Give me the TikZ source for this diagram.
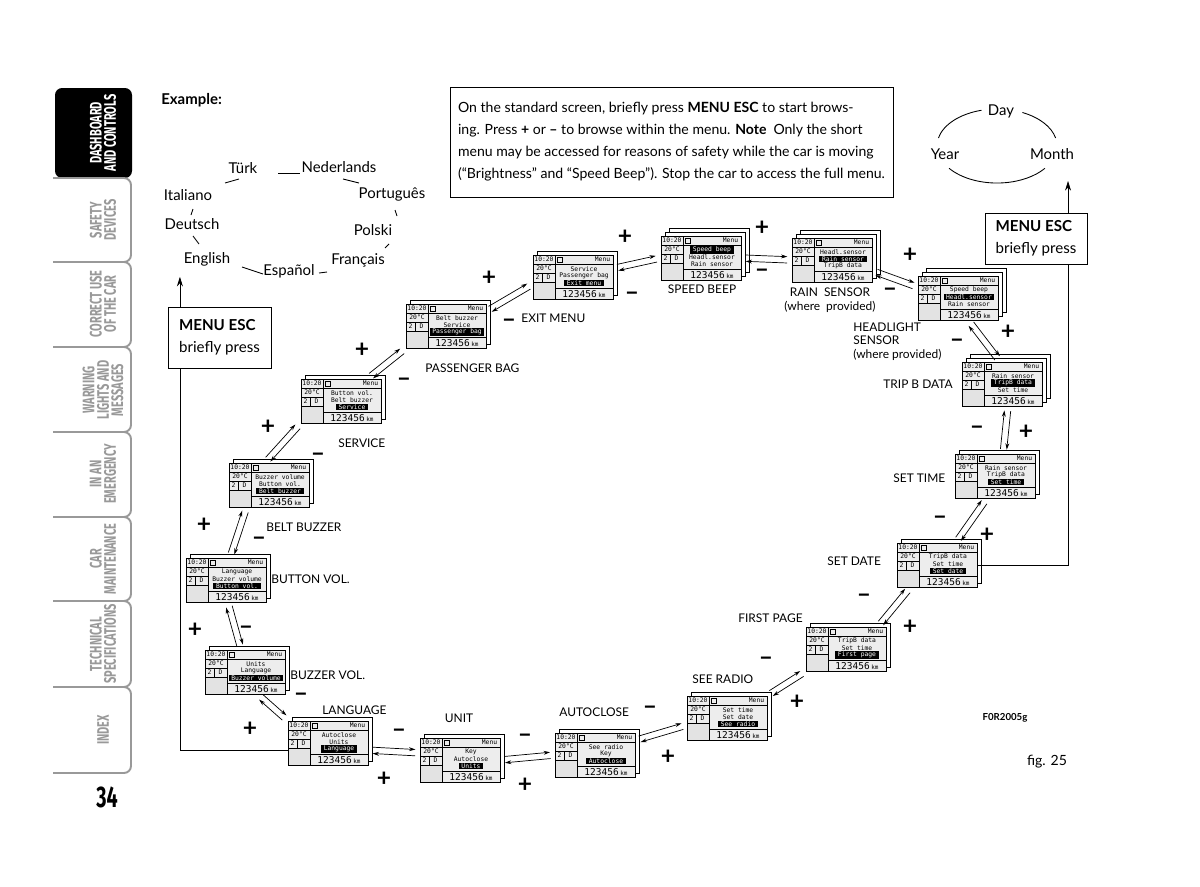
\documentclass[tikz,border=0pt]{standalone}
\usepackage{fontspec}
\setmainfont{Lato}
\newfontfamily\tabfont[FakeStretch=0.66]{Fira Sans}
\newfontfamily\lcdfont{DejaVu Sans Mono}
\usetikzlibrary{calc,arrows.meta}

\definecolor{tabgray}{gray}{0.6}
\definecolor{lcdgray}{gray}{0.93}

\tikzset{
    panel/.style={draw, fill=white, line width=0.35pt},
    lcdface/.style={fill=lcdgray, minimum width=1.6cm, minimum height=0.88cm, inner sep=0},
    lcdrule/.style={line width=0.3pt},
    lcdtxt/.style={font=\lcdfont\fontsize{3.6}{4}\selectfont, inner sep=0.3pt},
    hlrow/.style={fill=black, text=white, inner xsep=1.5pt},
    lcdkm/.style={font=\lcdfont\fontsize{5.4}{6}\selectfont, inner sep=0},
    flow/.style={line width=0.4pt, -{Stealth[length=3.6pt,width=2.2pt]}, shorten <=2.5pt, shorten >=2.5pt},
    up/.style={line width=0.45pt, -{Stealth[length=5.5pt,width=3.4pt]}},
    sign/.style={font=\fontsize{14}{14}\selectfont\bfseries, inner sep=0},
    lbl/.style={font=\fontsize{6.8}{7.9}\selectfont, inner sep=0, anchor=west},
    lang/.style={font=\fontsize{8.5}{10}\selectfont, inner sep=0},
    ringline/.style={line width=0.5pt},
    escbox/.style={draw, line width=0.5pt, align=left, font=\fontsize{8.6}{12.3}\selectfont, minimum width=2.06cm},
    note/.style={draw, line width=0.5pt, align=left, font=\fontsize{8}{12.5}\selectfont, minimum width=8.86cm, minimum height=2.2cm, inner xsep=2pt},
    tabline/.style={draw=tabgray, line width=1.1pt},
    tabtxt/.style={rotate=90, align=center, text=tabgray, font=\tabfont\bfseries\fontsize{9.5}{8.2}\selectfont, inner sep=0},
}

% one display: name, top left corner, three menu lines, highlighted line, panels in the stack
\newcommand\lcd[7]{%
    \begin{scope}[shift={#2}]
    \tikzset{row1/.style={}, row2/.style={}, row3/.style={}, row#6/.style={hlrow}}
    \ifnum#7>2 \draw[panel] (8,-8) rectangle (88,36); \fi
    \draw[panel] (4,-4) rectangle (84,40);
    \node[lcdface] (#1) at (40,22) {};
    \fill[gray!22] (0,27) rectangle (22,44);
    \draw[lcdrule] (0,0) rectangle (80,44);
    \draw[lcdrule] (0,9) -- (80,9) (22,0) -- (22,44) (0,18) -- (22,18) (0,27) -- (22,27)
        (9,18) -- (9,27) (22,33) -- (80,33) (24.5,2) rectangle (29.5,7);
    \node[lcdtxt] (#1-clk) at (11,4.6) {10:20};
    \node[lcdtxt, anchor=east] (#1-menu) at (78,4.6) {Menu};
    \node[lcdtxt] (#1-temp) at (11,13.6) {20°C};
    \node[lcdtxt] (#1-gear) at (4.5,22.6) {2};
    \node[lcdtxt] (#1-dir) at (15.5,22.6) {D};
    \node[lcdtxt, row1] (#1-t1) at (51,14) {#3};
    \node[lcdtxt, row2] (#1-t2) at (51,21) {#4};
    \node[lcdtxt, row3] (#1-t3) at (51,28) {#5};
    \node[lcdkm] (#1-km) at (51,39) {123456\,{\fontsize{3.4}{4}\selectfont km}};
    \end{scope}}

% a pair of opposite arrows between two displays
\newcommand\twoway[2]{%
    \draw[flow] ($(#1)!1.8pt!90:(#2)$) -- ($(#2)!1.8pt!-90:(#1)$);
    \draw[flow] ($(#2)!1.8pt!90:(#1)$) -- ($(#1)!1.8pt!-90:(#2)$);}

\begin{document}
\begin{tikzpicture}[x=0.02cm,y=-0.02cm]
    \useasboundingbox[fill=white] (0,0) rectangle (1200,886);

    %tabs
    \fill[black, rounded corners=4pt] (55,88) -- (132,88) -- (132,178) -- (55,178) -- cycle;
    \foreach \t/\b in {178/262,262/347,347/432,432/517,517/601,601/687,687/773}
        \draw[tabline, rounded corners=4pt] (53,\t) -- (131,\t) -- (131,\b) -- (53,\b);
    \node[tabtxt, text=white] (tab1) at (103,133) {DASHBOARD\\AND CONTROLS};
    \node[tabtxt] (tab2) at (103,220) {SAFETY\\DEVICES};
    \node[tabtxt] (tab3) at (103,304) {CORRECT USE\\OF THE CAR};
    \node[tabtxt] (tab4) at (103,390) {WARNING\\LIGHTS AND\\MESSAGES};
    \node[tabtxt] (tab5) at (103,474) {IN AN\\EMERGENCY};
    \node[tabtxt] (tab6) at (103,559) {CAR\\MAINTENANCE};
    \node[tabtxt] (tab7) at (103,644) {TECHNICAL\\SPECIFICATIONS};
    \node[tabtxt] (tab8) at (103,730) {INDEX};
    \node[font=\tabfont\bfseries\fontsize{17}{17}\selectfont, inner sep=0] (pageno) at (107,797) {34};

    %header
    \node[font=\fontsize{8.5}{10}\selectfont\bfseries, inner sep=0, anchor=west] (example) at (161,100) {Example:};
    \node[note] (intro) at (671.5,142) {On the standard screen, briefly press \textbf{MENU ESC} to start brows-\\
        ing. Press \textbf{+} or \textbf{--} to browse within the menu. \textbf{Note}\enspace Only the short\\
        menu may be accessed for reasons of safety while the car is moving\\
        (“Brightness” and “Speed Beep”). Stop the car to access the full menu.};

    %languages
    \node[lang] (turk) at (243,168) {Türk};
    \node[lang] (nederl) at (339,167) {Nederlands};
    \node[lang] (portug) at (392,195) {Português};
    \node[lang] (polski) at (373,230) {Polski};
    \node[lang] (francais) at (358,260) {Français};
    \node[lang] (espanol) at (289,271) {Español};
    \node[lang] (english) at (207,259) {English};
    \node[lang] (deutsch) at (192,224) {Deutsch};
    \node[lang] (italiano) at (188,195) {Italiano};
    \draw[ringline] (239,179) -- (225,183);
    \draw[ringline] (278,173) -- (300,173);
    \draw[ringline] (343,179) -- (359,183);
    \draw[ringline] (395,210) -- (397,216);
    \draw[ringline] (389,244) -- (385,248);
    \draw[ringline] (327,272) -- (319,273);
    \draw[ringline] (242,267) -- (263,274);
    \draw[ringline] (193,236) -- (199,244);
    \draw[ringline] (193,209) -- (191,215);

    %date
    \node[lang] (day) at (1001,111) {Day};
    \node[lang] (year) at (945,154) {Year};
    \node[lang] (month) at (1052,154) {Month};
    \draw[ringline] (938.4,138) arc[start angle=192.5, end angle=255, x radius=60, y radius=37];
    \draw[ringline] (1022.4,112.5) arc[start angle=295, end angle=347.5, x radius=60, y radius=37];
    \draw[ringline] (949.1,168.3) arc[start angle=143, end angle=37, x radius=60, y radius=37];

    %displays
    \lcd{language}{(288,721)}{Autoclose}{Units}{Language}{3}{2}
    \lcd{buzzvol}{(205,650)}{Units}{Language}{Buzzer volume}{3}{2}
    \lcd{buttonvol}{(186,558)}{Language}{Buzzer volume}{Button vol.}{3}{2}
    \lcd{beltbuzz}{(229,463)}{Buzzer volume}{Button vol.}{Belt buzzer}{3}{2}
    \lcd{service}{(301,379)}{Button vol.}{Belt buzzer}{Service}{3}{2}
    \lcd{passbag}{(406,304)}{Belt buzzer}{Service}{Passenger bag}{3}{2}
    \lcd{exitmenu}{(533,255)}{Service}{Passenger bag}{Exit menu}{3}{2}
    \lcd{speedbeep}{(661,236)}{Speed beep}{Headl.sensor}{Rain sensor}{1}{3}
    \lcd{rainsens}{(792,238)}{Headl.sensor}{Rain sensor}{TripB data}{2}{3}
    \lcd{headsens}{(918,276)}{Speed beep}{Headl.sensor}{Rain sensor}{2}{3}
    \lcd{tripb}{(962,362)}{Rain sensor}{TripB data}{Set time}{2}{3}
    \lcd{settime}{(955,454)}{Rain sensor}{TripB data}{Set time}{3}{2}
    \lcd{setdate}{(897,543)}{TripB data}{Set time}{Set date}{3}{2}
    \lcd{firstpage}{(806,627)}{TripB data}{Set time}{First page}{3}{2}
    \lcd{seeradio}{(687,696)}{Set time}{Set date}{See radio}{3}{2}
    \lcd{autoclose}{(555,733)}{See radio}{Key}{Autoclose}{3}{2}
    \lcd{unit}{(420,738)}{Key}{Autoclose}{Units}{3}{2}

    \twoway{language.north west}{buzzvol.-60}
    \twoway{buzzvol.100}{buttonvol.-85}
    \twoway{buttonvol.80}{beltbuzz.-135}
    \twoway{beltbuzz.100}{service.south west}
    \twoway{service.40}{passbag.south west}
    \twoway{passbag.20}{exitmenu.190}
    \twoway{exitmenu.12}{speedbeep.west}
    \twoway{speedbeep.east}{rainsens.west}
    \twoway{rainsens.-15}{headsens.165}
    \twoway{headsens.-65}{tripb.95}
    \twoway{tripb.-75}{settime.70}
    \twoway{settime.-110}{setdate.50}
    \twoway{setdate.-140}{firstpage.35}
    \twoway{firstpage.south west}{seeradio.north east}
    \twoway{seeradio.190}{autoclose.20}
    \twoway{autoclose.west}{unit.east}
    \twoway{unit.170}{language.-10}

    %menu esc
    \node[escbox, minimum height=1.22cm] (escleft) at (219.5,337.5) {\textbf{MENU ESC}\\briefly press};
    \node[escbox, minimum height=1.02cm, minimum width=2.04cm] (escright) at (1036,238.5) {\textbf{MENU ESC}\\briefly press};
    \draw[line width=0.45pt] (language.190) -| (escleft.-142);
    \draw[up, shorten >=6pt] (escleft.142) -- (escleft.142 |- english.south);
    \draw[line width=0.45pt] (setdate.east) -| (escright.-39);
    \draw[up, shorten >=12pt] (escright.39) -- (escright.39 |- month.south);

    %signs
    \foreach \x/\y [count=\k] in {625/237,489/278,362/350,268/427,204/525,195/630,250/729,384/779,525/785,
        668/757,797/702,910/627,987/535,1026/432,1008/332,910/255,762/228}
        \node[sign] (plus\k) at (\x,\y) {+};
    \foreach \x/\y [count=\k] in {632/296,509/323,404/382,318/457,259/541,246/630,301/697,399/733,525/738,
        650/710,766/661,864/598,940/520,977/430,957/343,890/292,762/273}
        \node[sign] (minus\k) at (\x,\y) {--};

    %labels
    \node[lbl] (lblbuzz) at (290,675) {BUZZER VOL.};
    \node[lbl] (lblbutton) at (271,579) {BUTTON VOL.};
    \node[lbl] (lblbelt) at (266,527) {BELT BUZZER};
    \node[lbl] (lblservice) at (338,443) {SERVICE};
    \node[lbl] (lblpass) at (425,368) {PASSENGER BAG};
    \node[lbl] (lblexit) at (521,318) {EXIT MENU};
    \node[lbl, anchor=center] (lblspeed) at (702,289) {SPEED BEEP};
    \node[lbl, anchor=center, align=center] (lblrain) at (830,300) {RAIN\enspace SENSOR\\(where\enspace provided)};
    \node[lbl, anchor=north west, align=left] (lblhead) at (853,322) {HEADLIGHT\\SENSOR\\(where provided)};
    \node[lbl] (lbltrip) at (883,384) {TRIP B DATA};
    \node[lbl] (lbltime) at (893,478) {SET TIME};
    \node[lbl] (lbldate) at (827,561) {SET DATE};
    \node[lbl] (lblfirst) at (738,618) {FIRST PAGE};
    \node[lbl] (lblradio) at (692,679) {SEE RADIO};
    \node[lbl] (lblauto) at (559,712) {AUTOCLOSE};
    \node[lbl, anchor=center] (lblunit) at (459,718) {UNIT};
    \node[lbl] (lbllang) at (322,710) {LANGUAGE};

    \node[font=\fontsize{5.5}{6}\selectfont\bfseries, inner sep=0] (figcode) at (1005,718) {F0R2005g};
    \node[font=\fontsize{8}{9}\selectfont, inner sep=0] (figno) at (1047,762) {fig. 25};
\end{tikzpicture}
\end{document}
